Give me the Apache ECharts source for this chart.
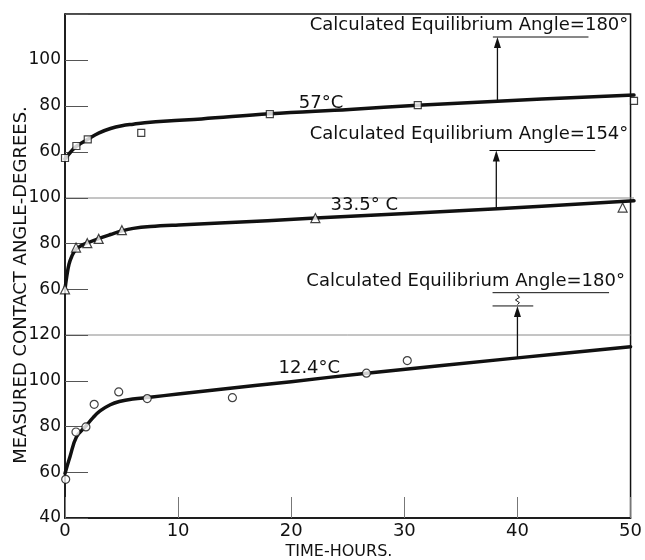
<!DOCTYPE html>
<html>
<head>
<meta charset="utf-8">
<script src="https://cdn.jsdelivr.net/npm/echarts@6/dist/echarts.min.js"></script>
<style>
  html, body { margin: 0; padding: 0; background: #fff; }
  #chart { width: 645px; height: 560px; }
</style>
</head>
<body>
<div id="chart"></div>
<script>
// Time axis (hours)
const hourTicks = [0, 10, 20, 30, 40, 50];

// Tick labels shown on each panel's angle axis (degrees)
const topTickLabels = [60, 80, 100];
const midTickLabels = [60, 80, 100];
const lowTickLabels = [40, 60, 80, 100, 120];

// 57 °C run: measured angles and drawn trend curve [hours, degrees]
const run57Points = [[0, 57.4], [1, 62.6], [2, 65.5], [6.7, 68.3], [18, 76.5], [31, 80.4], [50, 82.2]];
const run57Curve = [[0, 57], [0.5, 60], [1, 62.5], [2, 65.5], [3, 68.3], [4, 70.2], [5, 71.4], [6, 72.1],
  [7, 72.7], [9, 73.5], [12, 74.4], [18, 76.6], [25, 78.5], [31, 80.3], [38, 82.1], [50, 84.8]];

// 33.5 °C run
const run335Points = [[0, 60], [0.97, 78.3], [1.96, 80.2], [2.96, 82.1], [5, 85.9], [22, 91.2], [49, 95.8]];
const run335Curve = [[0, 60], [0.15, 65.5], [0.35, 71], [0.6, 74.5], [0.9, 77.2], [1.3, 78.8], [2, 80.4],
  [3, 82.3], [4, 84], [5, 85.6], [6, 86.7], [7.5, 87.5], [10, 88.2], [13.6, 89], [22, 91.2], [38, 95.3], [50, 98.8]];

// 12.4 °C run
const run124Points = [[0.06, 56.9], [0.97, 77.6], [1.85, 79.8], [2.58, 89.7], [4.75, 95.1], [7.27, 92.2],
  [14.8, 92.6], [26.65, 103.3], [30.26, 108.8]];
const run124Curve = [[0, 59.5], [0.44, 66.8], [1.02, 75.5], [1.85, 80.2], [2.5, 84], [3.1, 86.8], [4, 89.5],
  [4.8, 90.9], [6, 92], [7.5, 92.8], [10, 94.2], [13.6, 96.2], [20, 99.6], [26.65, 103.3], [40, 110], [50, 114.9]];

// Text
const runLabels = ['57°C', '33.5° C', '12.4°C'];
const equilibriumLabels = ['Calculated Equilibrium Angle=180°', 'Calculated Equilibrium Angle=154°', 'Calculated Equilibrium Angle=180°'];
const yTitle = 'MEASURED CONTACT ANGLE-DEGREES.';
const xTitle = 'TIME-HOURS.';

const FONT = 'DejaVu Sans';
const INK = '#111';

const chart = echarts.init(document.getElementById('chart'), null, { renderer: 'canvas' });

function yAxisFor(gridIndex, min, max, shown) {
  return {
    type: 'value', gridIndex, min, max, interval: 20,
    axisLine: { show: true, lineStyle: { color: INK, width: 1.5 } },
    axisTick: { show: true, inside: true, length: 23, lineStyle: { color: '#555', width: 1 } },
    splitLine: { show: false },
    axisLabel: {
      color: INK, fontFamily: FONT, fontSize: 17, margin: 4,
      formatter: v => (shown.includes(v) ? String(v) : '')
    }
  };
}

function xAxisFor(gridIndex, visible) {
  return {
    type: 'value', gridIndex, min: hourTicks[0], max: hourTicks[hourTicks.length - 1], interval: 10,
    show: visible,
    axisLine: { show: true, onZero: false, lineStyle: { color: INK, width: 1.5 } },
    axisTick: { show: true, inside: true, length: 21, lineStyle: { color: '#777', width: 1 } },
    splitLine: { show: false },
    axisLabel: { color: INK, fontFamily: FONT, fontSize: 18, margin: 4 }
  };
}

function curveSeries(idx, data) {
  return {
    type: 'line', xAxisIndex: idx, yAxisIndex: idx, data,
    showSymbol: false, smooth: 0.4,
    lineStyle: { color: INK, width: 3.5, cap: 'round', join: 'round' }, z: 2, silent: true
  };
}

function pointSeries(idx, data, symbol, size) {
  return {
    type: 'scatter', xAxisIndex: idx, yAxisIndex: idx, data, symbol, symbolSize: size,
    itemStyle: { color: '#fff', borderColor: INK, borderWidth: 1.2 }, z: 4, silent: true
  };
}

const option = {
  animation: false,
  backgroundColor: '#fff',
  grid: [
    { left: 65, right: 11, top: 14, height: 184 },
    { left: 65, right: 11, top: 198, height: 137 },
    { left: 65, right: 11, top: 335, height: 183 }
  ],
  xAxis: [xAxisFor(0, false), xAxisFor(1, false), xAxisFor(2, true)],
  yAxis: [
    yAxisFor(0, 40, 120, topTickLabels),
    yAxisFor(1, 40, 100, midTickLabels),
    yAxisFor(2, 40, 120, lowTickLabels)
  ],
  series: [
    curveSeries(0, run57Curve), pointSeries(0, run57Points, 'rect', 7),
    curveSeries(1, run335Curve), pointSeries(1, run335Points, 'triangle', 9),
    curveSeries(2, run124Curve), pointSeries(2, run124Points, 'circle', 8)
  ]
};
chart.setOption(option);

// Overlay drawing positioned through each panel's scales
const px = (g, pt) => chart.convertToPixel({ gridIndex: g }, pt);

function curveAt(curve, x) {
  for (let i = 1; i < curve.length; i++) {
    if (x <= curve[i][0]) {
      const [x0, y0] = curve[i - 1], [x1, y1] = curve[i];
      return y0 + (y1 - y0) * (x - x0) / (x1 - x0);
    }
  }
  return curve[curve.length - 1][1];
}

function text(str, p, align, size, extra) {
  return Object.assign({
    type: 'text', x: p[0], y: p[1], silent: true,
    style: {
      text: str, font: size + 'px "' + FONT + '"', fill: INK,
      align, verticalAlign: 'middle', textAlign: align, textVerticalAlign: 'middle'
    }
  }, extra || {});
}

function hline(g, x0, x1, y, color, w) {
  const a = px(g, [x0, y]), b = px(g, [x1, y]);
  return { type: 'line', silent: true, shape: { x1: a[0], y1: a[1], x2: b[0], y2: b[1] },
    style: { stroke: color, lineWidth: w } };
}

function arrow(g, x, from, to) {
  const a = px(g, [x, from]), b = px(g, [x, to]);
  return [
    { type: 'line', silent: true, shape: { x1: a[0], y1: a[1], x2: b[0], y2: b[1] + 8 },
      style: { stroke: INK, lineWidth: 1.3 } },
    { type: 'polygon', silent: true,
      shape: { points: [[b[0], b[1]], [b[0] - 3.5, b[1] + 11], [b[0] + 3.5, b[1] + 11]] },
      style: { fill: INK } }
  ];
}

const tl = px(0, [0, 120]), br = px(2, [50, 40]);
const elements = [];

// outer frame
elements.push({ type: 'rect', silent: true,
  shape: { x: tl[0], y: tl[1], width: br[0] - tl[0], height: br[1] - tl[1] },
  style: { fill: null, stroke: INK, lineWidth: 1.5 } });

// panel separators
elements.push(hline(1, 0, 50, 100, '#8a8a8a', 1));
elements.push(hline(2, 0, 50, 120, '#8a8a8a', 1));

// 57 °C panel annotation
elements.push(text(equilibriumLabels[0], px(0, [49.5, 115.2]), 'right', 18));
elements.push(hline(0, 37.6, 46.0, 110, INK, 1));
elements.push(...arrow(0, 38, curveAt(run57Curve, 38), 110));
elements.push(text(runLabels[0], px(0, [22.5, 81.3]), 'center', 18));

// 33.5 °C panel annotation
elements.push(text(equilibriumLabels[1], px(1, [49.5, 127.7]), 'right', 18));
elements.push(hline(1, 37.3, 46.6, 120.8, INK, 1));
elements.push(...arrow(1, 37.9, curveAt(run335Curve, 37.9), 120.8));
elements.push(text(runLabels[1], px(1, [26.3, 97.0]), 'center', 18));

// 12.4 °C panel annotation with broken-scale mark
elements.push(text(equilibriumLabels[2], px(2, [49.5, 143.3]), 'right', 18));
elements.push(hline(2, 37.8, 48.1, 138.5, INK, 1));
elements.push(hline(2, 37.8, 41.4, 132.7, INK, 1));
{
  const a = px(2, [40, 138.5]), b = px(2, [40, 132.7]);
  const h = b[1] - a[1];
  elements.push({ type: 'polyline', silent: true,
    shape: { points: [[a[0], a[1] + h * 0.15], [a[0] + 2, a[1] + h * 0.35], [a[0] - 2, a[1] + h * 0.55],
      [a[0] + 2, a[1] + h * 0.75], [a[0], a[1] + h * 0.9]] },
    style: { stroke: INK, lineWidth: 1, fill: null } });
}
elements.push(...arrow(2, 40, curveAt(run124Curve, 40), 132.7));
elements.push(text(runLabels[2], px(2, [21.6, 105.6]), 'center', 18));

// axis titles
elements.push(text(yTitle, [21, 285], 'center', 18, { rotation: Math.PI / 2 }));
elements.push(text(xTitle, [339, 552], 'center', 16));

chart.setOption({ graphic: { elements } });
</script>
</body>
</html>
